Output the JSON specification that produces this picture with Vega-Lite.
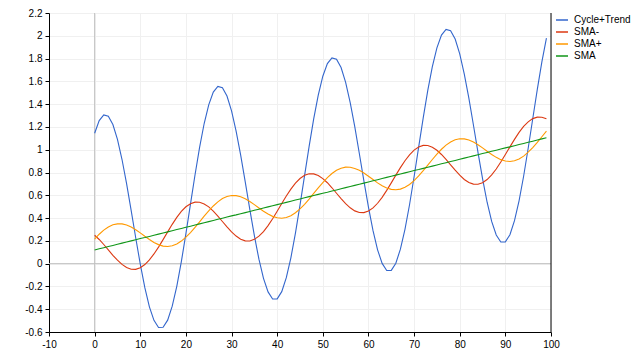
{
  "$schema": "https://vega.github.io/schema/vega-lite/v6.json",
  "width": 502,
  "height": 319,
  "autosize": {"type": "none"},
  "padding": {"left": 49, "top": 13, "right": 89, "bottom": 28},
  "background": "white",
  "config": {
    "view": {"stroke": null},
    "axis": {"labelFont": "Liberation Sans", "labelFontSize": 10, "labelColor": "#000000", "domainColor": "#000000", "domainWidth": 1, "tickColor": "#000000", "tickSize": 4, "labelPadding": 3, "gridColor": "#f0f0f0", "gridWidth": 1, "labelOverlap": false, "labelFlush": false},
    "legend": {"labelFont": "Liberation Sans", "labelFontSize": 10, "labelColor": "#000000"}
  },
  "datasets": {
    "one": [{}],
    "ct": [{"x":0,"y":1.144},{"x":1,"y":1.256},{"x":2,"y":1.306},{"x":3,"y":1.294},{"x":4,"y":1.221},{"x":5,"y":1.091},{"x":6,"y":0.914},{"x":7,"y":0.702},{"x":8,"y":0.467},{"x":9,"y":0.227},{"x":10,"y":-0.004},{"x":11,"y":-0.211},{"x":12,"y":-0.379},{"x":13,"y":-0.498},{"x":14,"y":-0.56},{"x":15,"y":-0.559},{"x":16,"y":-0.496},{"x":17,"y":-0.373},{"x":18,"y":-0.199},{"x":19,"y":0.017},{"x":20,"y":0.263},{"x":21,"y":0.522},{"x":22,"y":0.78},{"x":23,"y":1.021},{"x":24,"y":1.23},{"x":25,"y":1.394},{"x":26,"y":1.506},{"x":27,"y":1.556},{"x":28,"y":1.544},{"x":29,"y":1.471},{"x":30,"y":1.341},{"x":31,"y":1.164},{"x":32,"y":0.952},{"x":33,"y":0.717},{"x":34,"y":0.477},{"x":35,"y":0.246},{"x":36,"y":0.039},{"x":37,"y":-0.129},{"x":38,"y":-0.248},{"x":39,"y":-0.31},{"x":40,"y":-0.309},{"x":41,"y":-0.246},{"x":42,"y":-0.123},{"x":43,"y":0.051},{"x":44,"y":0.267},{"x":45,"y":0.513},{"x":46,"y":0.772},{"x":47,"y":1.03},{"x":48,"y":1.271},{"x":49,"y":1.48},{"x":50,"y":1.645},{"x":51,"y":1.756},{"x":52,"y":1.806},{"x":53,"y":1.794},{"x":54,"y":1.721},{"x":55,"y":1.591},{"x":56,"y":1.414},{"x":57,"y":1.202},{"x":58,"y":0.967},{"x":59,"y":0.727},{"x":60,"y":0.496},{"x":61,"y":0.289},{"x":62,"y":0.121},{"x":63,"y":0.002},{"x":64,"y":-0.06},{"x":65,"y":-0.059},{"x":66,"y":0.004},{"x":67,"y":0.127},{"x":68,"y":0.301},{"x":69,"y":0.517},{"x":70,"y":0.763},{"x":71,"y":1.022},{"x":72,"y":1.28},{"x":73,"y":1.521},{"x":74,"y":1.73},{"x":75,"y":1.894},{"x":76,"y":2.006},{"x":77,"y":2.056},{"x":78,"y":2.044},{"x":79,"y":1.971},{"x":80,"y":1.841},{"x":81,"y":1.664},{"x":82,"y":1.452},{"x":83,"y":1.217},{"x":84,"y":0.977},{"x":85,"y":0.746},{"x":86,"y":0.539},{"x":87,"y":0.371},{"x":88,"y":0.252},{"x":89,"y":0.19},{"x":90,"y":0.191},{"x":91,"y":0.254},{"x":92,"y":0.377},{"x":93,"y":0.551},{"x":94,"y":0.767},{"x":95,"y":1.013},{"x":96,"y":1.272},{"x":97,"y":1.53},{"x":98,"y":1.771},{"x":99,"y":1.98}],
    "smam": [{"x":0,"y":0.249},{"x":1,"y":0.212},{"x":2,"y":0.168},{"x":3,"y":0.121},{"x":4,"y":0.073},{"x":5,"y":0.03},{"x":6,"y":-0.007},{"x":7,"y":-0.034},{"x":8,"y":-0.049},{"x":9,"y":-0.05},{"x":10,"y":-0.036},{"x":11,"y":-0.008},{"x":12,"y":0.033},{"x":13,"y":0.085},{"x":14,"y":0.145},{"x":15,"y":0.211},{"x":16,"y":0.279},{"x":17,"y":0.345},{"x":18,"y":0.406},{"x":19,"y":0.458},{"x":20,"y":0.499},{"x":21,"y":0.526},{"x":22,"y":0.54},{"x":23,"y":0.539},{"x":24,"y":0.524},{"x":25,"y":0.498},{"x":26,"y":0.461},{"x":27,"y":0.417},{"x":28,"y":0.37},{"x":29,"y":0.322},{"x":30,"y":0.278},{"x":31,"y":0.242},{"x":32,"y":0.215},{"x":33,"y":0.2},{"x":34,"y":0.199},{"x":35,"y":0.213},{"x":36,"y":0.241},{"x":37,"y":0.281},{"x":38,"y":0.334},{"x":39,"y":0.394},{"x":40,"y":0.46},{"x":41,"y":0.528},{"x":42,"y":0.594},{"x":43,"y":0.654},{"x":44,"y":0.707},{"x":45,"y":0.747},{"x":46,"y":0.775},{"x":47,"y":0.789},{"x":48,"y":0.788},{"x":49,"y":0.773},{"x":50,"y":0.746},{"x":51,"y":0.71},{"x":52,"y":0.666},{"x":53,"y":0.618},{"x":54,"y":0.571},{"x":55,"y":0.527},{"x":56,"y":0.49},{"x":57,"y":0.463},{"x":58,"y":0.449},{"x":59,"y":0.448},{"x":60,"y":0.462},{"x":61,"y":0.489},{"x":62,"y":0.53},{"x":63,"y":0.582},{"x":64,"y":0.643},{"x":65,"y":0.709},{"x":66,"y":0.777},{"x":67,"y":0.843},{"x":68,"y":0.903},{"x":69,"y":0.955},{"x":70,"y":0.996},{"x":71,"y":1.024},{"x":72,"y":1.038},{"x":73,"y":1.037},{"x":74,"y":1.022},{"x":75,"y":0.995},{"x":76,"y":0.958},{"x":77,"y":0.915},{"x":78,"y":0.867},{"x":79,"y":0.82},{"x":80,"y":0.776},{"x":81,"y":0.739},{"x":82,"y":0.712},{"x":83,"y":0.698},{"x":84,"y":0.697},{"x":85,"y":0.71},{"x":86,"y":0.738},{"x":87,"y":0.779},{"x":88,"y":0.831},{"x":89,"y":0.892},{"x":90,"y":0.958},{"x":91,"y":1.025},{"x":92,"y":1.091},{"x":93,"y":1.152},{"x":94,"y":1.204},{"x":95,"y":1.245},{"x":96,"y":1.273},{"x":97,"y":1.286},{"x":98,"y":1.285},{"x":99,"y":1.271}],
    "smap": [{"x":0,"y":0.215},{"x":1,"y":0.258},{"x":2,"y":0.294},{"x":3,"y":0.322},{"x":4,"y":0.341},{"x":5,"y":0.349},{"x":6,"y":0.349},{"x":7,"y":0.339},{"x":8,"y":0.321},{"x":9,"y":0.297},{"x":10,"y":0.27},{"x":11,"y":0.24},{"x":12,"y":0.212},{"x":13,"y":0.186},{"x":14,"y":0.167},{"x":15,"y":0.154},{"x":16,"y":0.151},{"x":17,"y":0.157},{"x":18,"y":0.173},{"x":19,"y":0.198},{"x":20,"y":0.232},{"x":21,"y":0.273},{"x":22,"y":0.319},{"x":23,"y":0.367},{"x":24,"y":0.417},{"x":25,"y":0.464},{"x":26,"y":0.506},{"x":27,"y":0.542},{"x":28,"y":0.571},{"x":29,"y":0.589},{"x":30,"y":0.598},{"x":31,"y":0.597},{"x":32,"y":0.588},{"x":33,"y":0.57},{"x":34,"y":0.546},{"x":35,"y":0.518},{"x":36,"y":0.489},{"x":37,"y":0.46},{"x":38,"y":0.435},{"x":39,"y":0.415},{"x":40,"y":0.403},{"x":41,"y":0.399},{"x":42,"y":0.405},{"x":43,"y":0.421},{"x":44,"y":0.447},{"x":45,"y":0.481},{"x":46,"y":0.521},{"x":47,"y":0.567},{"x":48,"y":0.616},{"x":49,"y":0.665},{"x":50,"y":0.712},{"x":51,"y":0.755},{"x":52,"y":0.791},{"x":53,"y":0.819},{"x":54,"y":0.838},{"x":55,"y":0.847},{"x":56,"y":0.846},{"x":57,"y":0.836},{"x":58,"y":0.819},{"x":59,"y":0.795},{"x":60,"y":0.767},{"x":61,"y":0.738},{"x":62,"y":0.709},{"x":63,"y":0.684},{"x":64,"y":0.664},{"x":65,"y":0.652},{"x":66,"y":0.648},{"x":67,"y":0.654},{"x":68,"y":0.67},{"x":69,"y":0.695},{"x":70,"y":0.729},{"x":71,"y":0.77},{"x":72,"y":0.816},{"x":73,"y":0.865},{"x":74,"y":0.914},{"x":75,"y":0.961},{"x":76,"y":1.004},{"x":77,"y":1.04},{"x":78,"y":1.068},{"x":79,"y":1.087},{"x":80,"y":1.096},{"x":81,"y":1.095},{"x":82,"y":1.085},{"x":83,"y":1.067},{"x":84,"y":1.044},{"x":85,"y":1.016},{"x":86,"y":0.986},{"x":87,"y":0.958},{"x":88,"y":0.933},{"x":89,"y":0.913},{"x":90,"y":0.901},{"x":91,"y":0.897},{"x":92,"y":0.903},{"x":93,"y":0.919},{"x":94,"y":0.944},{"x":95,"y":0.978},{"x":96,"y":1.019},{"x":97,"y":1.065},{"x":98,"y":1.114},{"x":99,"y":1.163}],
    "sma": [{"x":0,"y":0.12},{"x":1,"y":0.13},{"x":2,"y":0.14},{"x":3,"y":0.15},{"x":4,"y":0.16},{"x":5,"y":0.17},{"x":6,"y":0.18},{"x":7,"y":0.19},{"x":8,"y":0.2},{"x":9,"y":0.21},{"x":10,"y":0.22},{"x":11,"y":0.229},{"x":12,"y":0.239},{"x":13,"y":0.249},{"x":14,"y":0.259},{"x":15,"y":0.269},{"x":16,"y":0.279},{"x":17,"y":0.289},{"x":18,"y":0.299},{"x":19,"y":0.309},{"x":20,"y":0.319},{"x":21,"y":0.329},{"x":22,"y":0.339},{"x":23,"y":0.349},{"x":24,"y":0.359},{"x":25,"y":0.369},{"x":26,"y":0.379},{"x":27,"y":0.389},{"x":28,"y":0.399},{"x":29,"y":0.409},{"x":30,"y":0.419},{"x":31,"y":0.428},{"x":32,"y":0.438},{"x":33,"y":0.448},{"x":34,"y":0.458},{"x":35,"y":0.468},{"x":36,"y":0.478},{"x":37,"y":0.488},{"x":38,"y":0.498},{"x":39,"y":0.508},{"x":40,"y":0.518},{"x":41,"y":0.528},{"x":42,"y":0.538},{"x":43,"y":0.548},{"x":44,"y":0.558},{"x":45,"y":0.568},{"x":46,"y":0.578},{"x":47,"y":0.588},{"x":48,"y":0.598},{"x":49,"y":0.608},{"x":50,"y":0.618},{"x":51,"y":0.627},{"x":52,"y":0.637},{"x":53,"y":0.647},{"x":54,"y":0.657},{"x":55,"y":0.667},{"x":56,"y":0.677},{"x":57,"y":0.687},{"x":58,"y":0.697},{"x":59,"y":0.707},{"x":60,"y":0.717},{"x":61,"y":0.727},{"x":62,"y":0.737},{"x":63,"y":0.747},{"x":64,"y":0.757},{"x":65,"y":0.767},{"x":66,"y":0.777},{"x":67,"y":0.787},{"x":68,"y":0.797},{"x":69,"y":0.807},{"x":70,"y":0.817},{"x":71,"y":0.826},{"x":72,"y":0.836},{"x":73,"y":0.846},{"x":74,"y":0.856},{"x":75,"y":0.866},{"x":76,"y":0.876},{"x":77,"y":0.886},{"x":78,"y":0.896},{"x":79,"y":0.906},{"x":80,"y":0.916},{"x":81,"y":0.926},{"x":82,"y":0.936},{"x":83,"y":0.946},{"x":84,"y":0.956},{"x":85,"y":0.966},{"x":86,"y":0.976},{"x":87,"y":0.986},{"x":88,"y":0.996},{"x":89,"y":1.006},{"x":90,"y":1.016},{"x":91,"y":1.025},{"x":92,"y":1.035},{"x":93,"y":1.045},{"x":94,"y":1.055},{"x":95,"y":1.065},{"x":96,"y":1.075},{"x":97,"y":1.085},{"x":98,"y":1.095},{"x":99,"y":1.105}]
  },
  "layer": [
    {
      "data": {"name": "one"},
      "mark": {"type": "rule", "color": "#c0c0c0", "strokeWidth": 1},
      "encoding": {"x": {"datum": 0, "type": "quantitative", "scale": {"domain": [-10, 100], "nice": false, "zero": false},
              "axis": {"title": null, "values": [-10, 0, 10, 20, 30, 40, 50, 60, 70, 80, 90, 100], "tickCount": 30, "format": "d", "labelExpr": "replace(datum.label, '\u2212', '-')", "grid": true, "labelFlush": false, "labelOverlap": false}}}
    },
    {
      "data": {"name": "one"},
      "mark": {"type": "rule", "color": "#c0c0c0", "strokeWidth": 1},
      "encoding": {"y": {"datum": 0, "type": "quantitative", "scale": {"domain": [-0.6, 2.2], "nice": false, "zero": false},
              "axis": {"title": null, "values": [-0.6, -0.4, -0.2, 0, 0.2, 0.4, 0.6, 0.8, 1, 1.2, 1.4, 1.6, 1.8, 2, 2.2], "tickCount": 30, "format": "~g", "labelExpr": "replace(datum.label, '\u2212', '-')", "grid": true, "labelFlush": false, "labelOverlap": false}}}
    },
    {
      "data": {"name": "ct"},
      "mark": {"type": "line", "strokeWidth": 1.1},
      "encoding": {
        "x": {"field": "x", "type": "quantitative", "scale": {"domain": [-10, 100], "nice": false, "zero": false},
              "axis": {"title": null, "values": [-10, 0, 10, 20, 30, 40, 50, 60, 70, 80, 90, 100], "tickCount": 30, "format": "d", "labelExpr": "replace(datum.label, '\u2212', '-')", "grid": true, "labelFlush": false, "labelOverlap": false}},
        "y": {"field": "y", "type": "quantitative", "scale": {"domain": [-0.6, 2.2], "nice": false, "zero": false},
              "axis": {"title": null, "values": [-0.6, -0.4, -0.2, 0, 0.2, 0.4, 0.6, 0.8, 1, 1.2, 1.4, 1.6, 1.8, 2, 2.2], "tickCount": 30, "format": "~g", "labelExpr": "replace(datum.label, '\u2212', '-')", "grid": true, "labelFlush": false, "labelOverlap": false}},
        "color": {"datum": "Cycle+Trend", "type": "nominal",
                  "scale": {"domain": ["Cycle+Trend", "SMA-", "SMA+", "SMA"], "range": ["#3366CC", "#DC3912", "#FF9900", "#109618"]},
                  "legend": {"title": null, "orient": "none", "legendX": 506, "legendY": 0, "symbolType": "stroke", "symbolSize": 144, "symbolStrokeWidth": 1.5, "rowPadding": 0, "labelOffset": 5, "padding": 0}}
      }
    },
    {
      "data": {"name": "smam"},
      "mark": {"type": "line", "strokeWidth": 1.1},
      "encoding": {
        "x": {"field": "x", "type": "quantitative", "scale": {"domain": [-10, 100], "nice": false, "zero": false}},
        "y": {"field": "y", "type": "quantitative", "scale": {"domain": [-0.6, 2.2], "nice": false, "zero": false}},
        "color": {"datum": "SMA-", "type": "nominal"}
      }
    },
    {
      "data": {"name": "smap"},
      "mark": {"type": "line", "strokeWidth": 1.1},
      "encoding": {
        "x": {"field": "x", "type": "quantitative", "scale": {"domain": [-10, 100], "nice": false, "zero": false}},
        "y": {"field": "y", "type": "quantitative", "scale": {"domain": [-0.6, 2.2], "nice": false, "zero": false}},
        "color": {"datum": "SMA+", "type": "nominal"}
      }
    },
    {
      "data": {"name": "sma"},
      "mark": {"type": "line", "strokeWidth": 1.1},
      "encoding": {
        "x": {"field": "x", "type": "quantitative", "scale": {"domain": [-10, 100], "nice": false, "zero": false}},
        "y": {"field": "y", "type": "quantitative", "scale": {"domain": [-0.6, 2.2], "nice": false, "zero": false}},
        "color": {"datum": "SMA", "type": "nominal"}
      }
    },
    {
      "data": {"name": "one"},
      "mark": {"type": "rule", "color": "#000000", "strokeWidth": 1},
      "encoding": {"x": {"datum": 100, "type": "quantitative", "scale": {"domain": [-10, 100], "nice": false, "zero": false}}}
    }
  ]
}
